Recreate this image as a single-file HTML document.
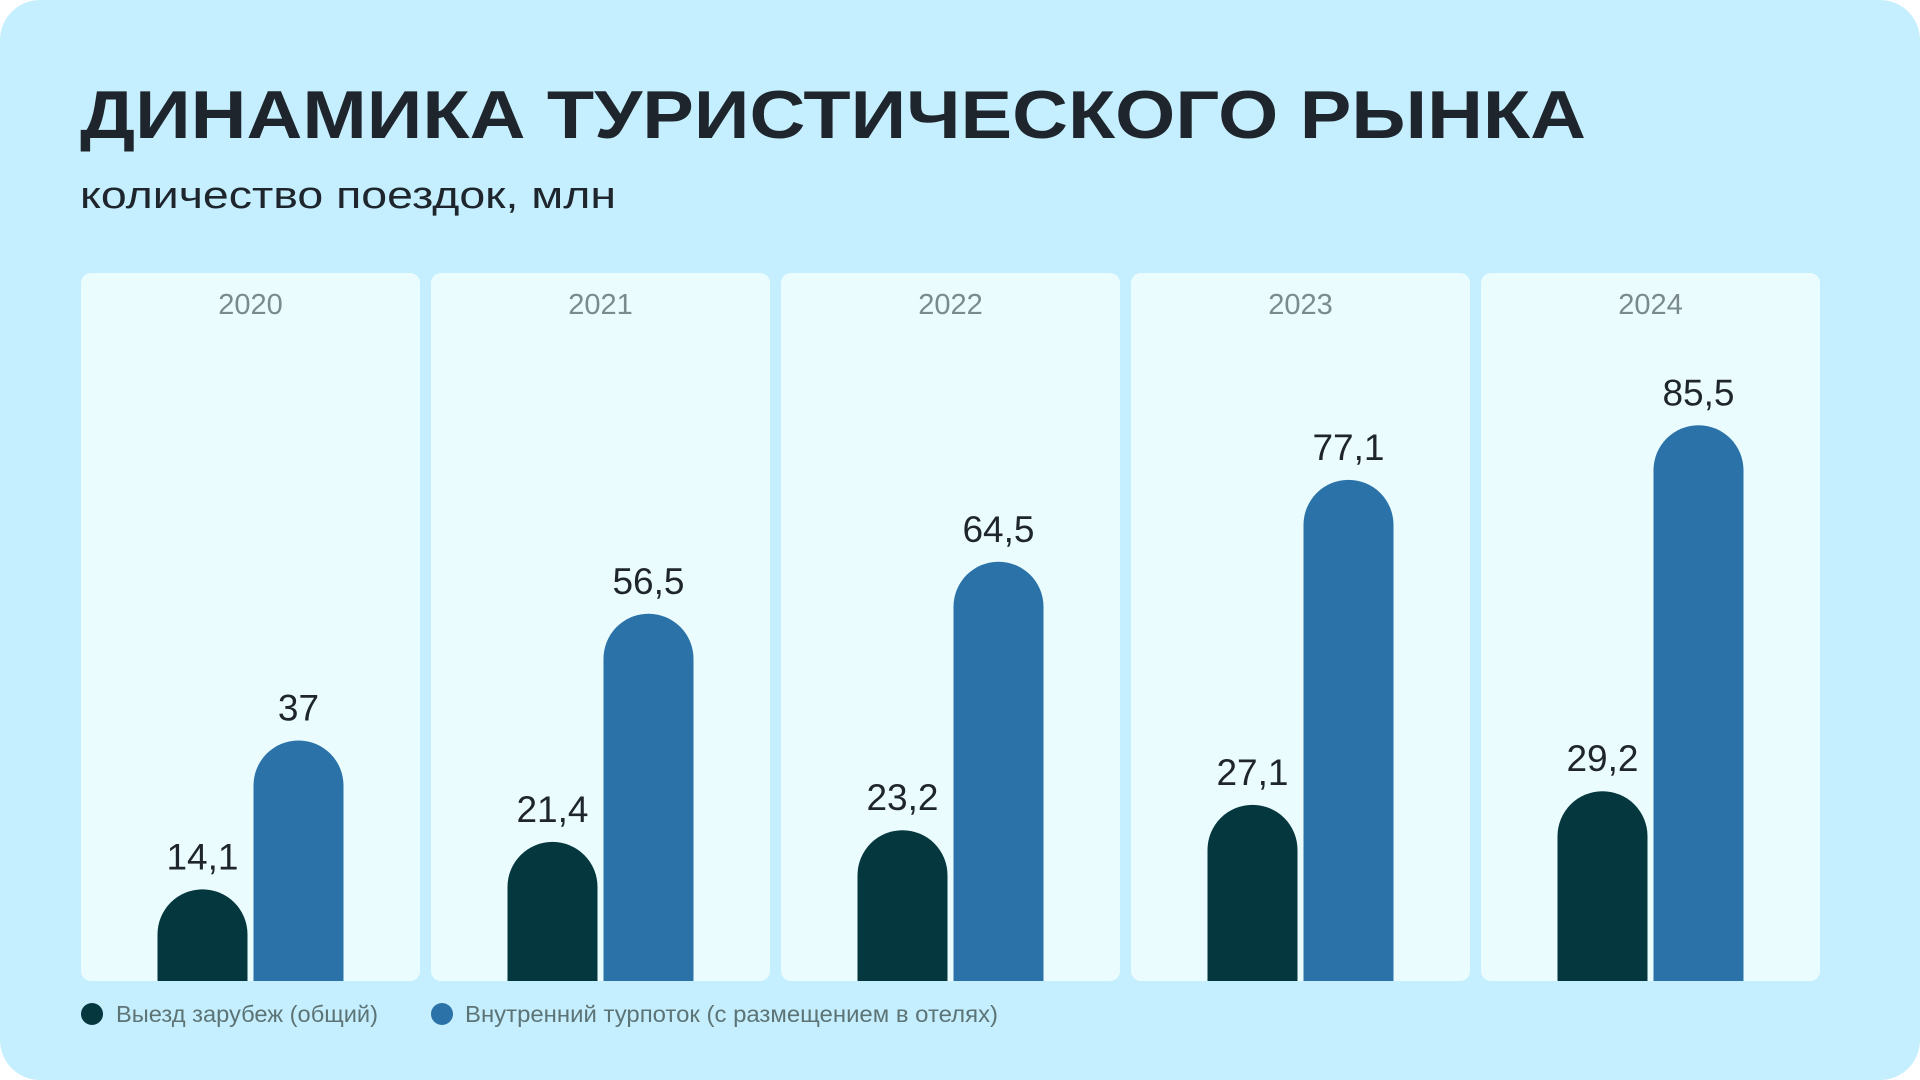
<!DOCTYPE html>
<html><head><meta charset="utf-8"><style>
html,body{margin:0;padding:0;background:#fff;}
svg{display:block;font-family:"Liberation Sans","DejaVu Sans",sans-serif;}
</style></head><body>
<svg id="chart" width="1920" height="1080" viewBox="0 0 1920 1080">
<rect x="0" y="0" width="1920" height="1080" rx="40" fill="#c5effe"/>
<text x="80" y="138" font-size="68" font-weight="bold" fill="#1e252c" textLength="1506" lengthAdjust="spacingAndGlyphs">ДИНАМИКА ТУРИСТИЧЕСКОГО РЫНКА</text>
<text x="80" y="208" font-size="38" fill="#1e252c" textLength="536" lengthAdjust="spacingAndGlyphs">количество поездок, млн</text>
<g id="plot"></g>
<g>
<circle cx="92" cy="1014" r="11" fill="#04373e"/>
<text x="116" y="1022" font-size="23" fill="#5d7476" textLength="262" lengthAdjust="spacingAndGlyphs">Выезд зарубеж (общий)</text>
<circle cx="442" cy="1014" r="11" fill="#2a72a8"/>
<text x="465" y="1022" font-size="23" fill="#5d7476" textLength="533" lengthAdjust="spacingAndGlyphs">Внутренний турпоток (с размещением в отелях)</text>
</g>
</svg>
<script>
const years = ["2020","2021","2022","2023","2024"];
const abroad = [14.1, 21.4, 23.2, 27.1, 29.2];
const domestic = [37, 56.5, 64.5, 77.1, 85.5];
const abroadLabels = ["14,1","21,4","23,2","27,1","29,2"];
const domesticLabels = ["37","56,5","64,5","77,1","85,5"];

const NS = "http://www.w3.org/2000/svg";
const g = document.getElementById("plot");
const baseY = 981, pxPerUnit = 6.5, panelX0 = 81, panelStep = 350, panelW = 339;
const barW = 90, gap = 6;
function yScale(v){ return baseY - v * pxPerUnit; }
function panelX(i){ return panelX0 + i * panelStep; }
function mk(tag, attrs){ const e = document.createElementNS(NS, tag); for (const k in attrs) e.setAttribute(k, attrs[k]); return e; }
function barPath(x, v){
  const top = yScale(v), r = barW/2, h = baseY - top;
  const ry = Math.min(r, h);
  return `M${x},${baseY} L${x},${top+ry} A${r},${ry} 0 0 1 ${x+barW},${top+ry} L${x+barW},${baseY} Z`;
}
years.forEach((yr, i) => {
  const px = panelX(i);
  const panel = mk("rect", {x:px, y:273, width:panelW, height:708, rx:10, fill:"#ebfcfe"});
  
  
  g.appendChild(panel);
  const t = mk("text", {x:px+panelW/2, y:314, "font-size":29, fill:"#7b8b8c", "text-anchor":"middle"});
  t.textContent = yr;
  
  
  g.appendChild(t);
  const cx = px + panelW/2;
  const x1 = cx - gap/2 - barW, x2 = cx + gap/2;
  const b1 = mk("path", {d:barPath(x1, abroad[i]), fill:"#04373e"});
  
  
  g.appendChild(b1);
  const b2 = mk("path", {d:barPath(x2, domestic[i]), fill:"#2a72a8"});
  
  
  g.appendChild(b2);
  const l1 = mk("text", {x:x1+barW/2, y:yScale(abroad[i])-20, "font-size":37, fill:"#1e252c", "text-anchor":"middle"});
  l1.textContent = abroadLabels[i];
  
  
  g.appendChild(l1);
  const l2 = mk("text", {x:x2+barW/2, y:yScale(domestic[i])-20, "font-size":37, fill:"#1e252c", "text-anchor":"middle"});
  l2.textContent = domesticLabels[i];
  
  
  g.appendChild(l2);
});
</script>
</body></html>
